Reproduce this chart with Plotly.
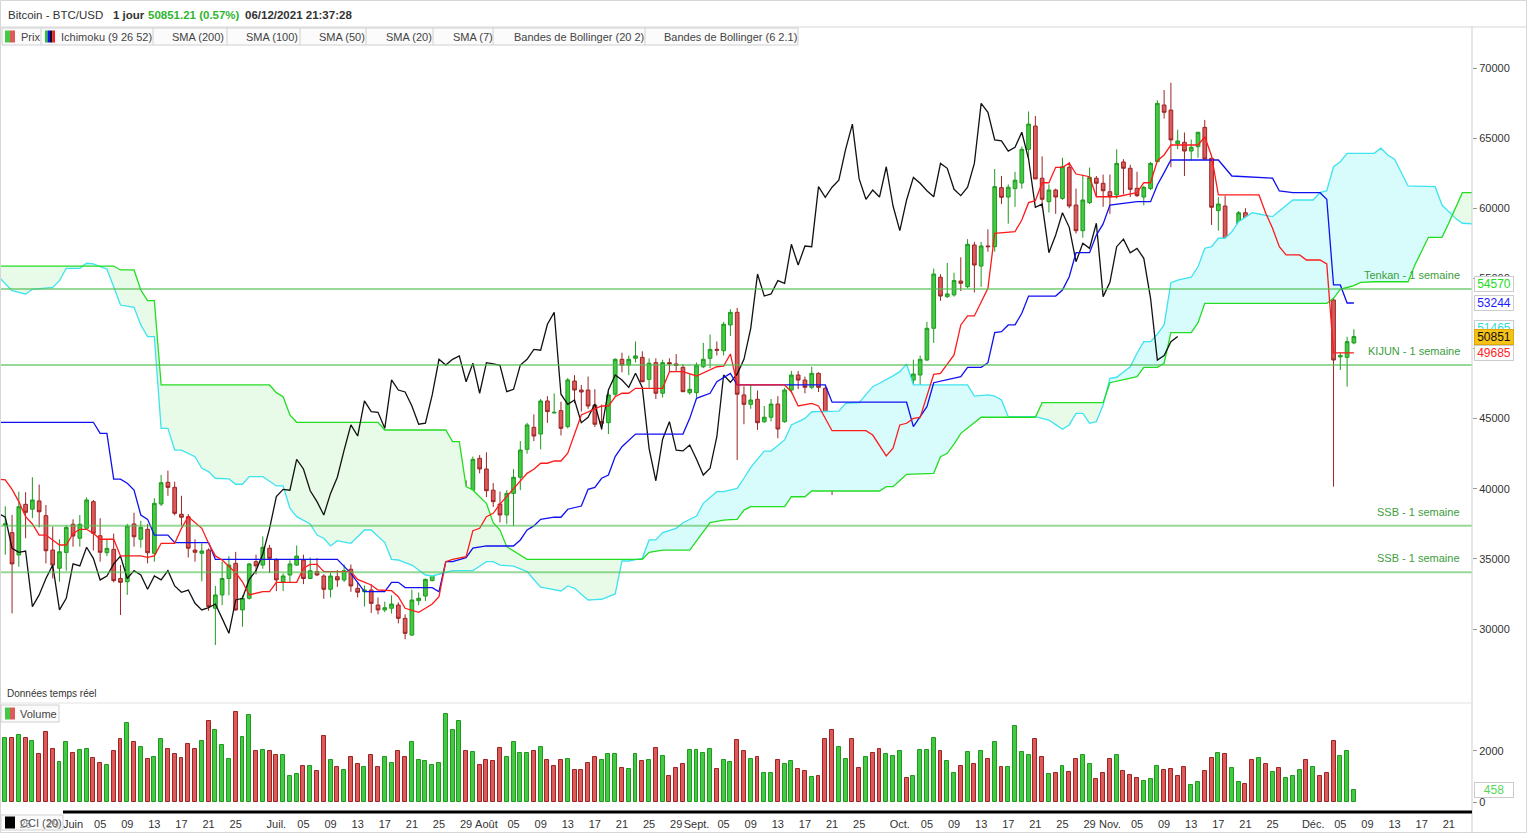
import numpy as np
import pandas as pd
import plotly.graph_objects as go

W, H = 1527, 833
FONT = "Liberation Sans, Arial, sans-serif"

# Daily candles, 22 May 2021 -> 7 Dec 2021 (USD)
first_day = "2021-05-22"
open_ = [
    37400, 36870, 35280, 38890, 38540, 39130, 38080, 35630, 34330, 35460,
    37470, 36470, 37180, 39080, 36650, 35440, 35680, 33600, 33370, 37490,
    36400, 37110, 35400, 38910, 40460, 40100, 38180, 38010, 35630, 35400,
    35630, 31480, 32430, 33600, 34680, 31360, 32190, 34800, 34560, 35760,
    34920, 33370, 33850, 34560, 34920, 33600, 34090, 33780, 32830, 33730,
    33500, 34260, 32900, 32660, 32780, 31710, 31360, 31480, 31710, 30760,
    29570, 32020, 32350, 33450, 34160, 35350, 37180, 39390, 39990, 39900,
    42170,
    41410, 39900, 38910, 38130, 39670, 40820, 42810, 44380, 43900, 46260,
    45400, 45570, 44430, 47680, 47040, 47040, 45970, 44800, 44710, 46740,
    49230, 48820, 49300, 49370, 47800, 48990, 46810, 48990, 48900, 48660,
    46850,
    46850, 48700, 49300, 49940, 49840, 51680, 52580, 46690, 46020, 46380,
    44780, 45100, 46040, 44780, 47040, 48110, 47750, 47230, 48230, 47160,
    42880, 40860, 43530, 44740, 42760, 42640, 43070, 42100, 40980, 41460,
    43710, 48060, 47750, 48110, 49180, 51440, 55080, 53700, 53820, 54810,
    54410, 57380, 55880, 57310, 57260, 61470, 60800, 61400, 61800, 64200,
    65860, 62140, 60470, 61300, 60700, 62920, 60230, 58400, 60400, 62140,
    61780,
    61180, 60950, 63300, 62850, 61420, 60800, 61400, 63320, 67360, 67000,
    64600, 64700, 64080, 64390, 65770, 63560, 59830, 60160, 56740, 58210,
    59680, 58570, 56190, 57570, 57380, 59000, 53650, 54480, 57450, 57670,
    56790, 57020, 56430, 53460, 49400, 49370, 50400,
]
high = [
    38750, 38130, 39790, 39750, 40820, 40300, 38840, 37300, 36400, 37400,
    37820, 38130, 39390, 39200, 37900, 36400, 36800, 34560, 37500, 38290,
    37720, 37490, 39320, 40980, 41290, 40500, 39500, 38200, 36400, 36100,
    35750, 33070, 34800, 35200, 35500, 32400, 34700, 35300, 36600, 36000,
    35050, 33950, 34900, 35950, 35300, 35100, 35050, 33900, 34000, 34200,
    34600, 34600, 33300, 33100, 33200, 32250, 31950, 32400, 31900, 31050,
    32800, 32600, 33600, 34500, 35400, 40500, 39500, 40900, 40600, 42300,
    42400,
    42600, 40400, 39800, 39900, 41400, 43400, 44700, 45300, 46400, 46600,
    46800, 46200, 47900, 48100, 47400, 48000, 47100, 46000, 47000, 49300,
    49700, 49500, 50500, 49800, 49300, 49300, 49200, 49300, 49600, 48900,
    48200,
    49000, 50400, 51000, 50500, 51900, 52800, 52900, 47300, 47400, 47000,
    45900, 46400, 46600, 47200, 48400, 48400, 48000, 48700, 48300, 47300,
    43600, 44000, 44900, 45100, 42900, 43900, 44300, 42600, 42500, 44100,
    48400, 48400, 49200, 49500, 51900, 55700, 55300, 56100, 55400, 56500,
    57800, 57600, 57600, 58500, 62800, 62300, 61700, 62600, 64400, 66900,
    66580, 63700, 61700, 61400, 63600, 63300, 61400, 62400, 62900, 62300,
    62400,
    62400, 64200, 63500, 63100, 62600, 61600, 63300, 67700, 68430, 68950,
    65600, 65400, 64900, 65300, 66300, 63600, 60800, 60900, 58300, 59800,
    60000, 59300, 58000, 57800, 59300, 59100, 55300, 57400, 58800, 59160,
    59040, 57400, 57540, 53800, 49700, 50840, 51370,
]
low = [
    35300, 31120, 34440, 36470, 37900, 37250, 34680, 33600, 33370, 34160,
    35870, 35870, 37180, 35600, 34800, 35200, 33330, 31000, 32430, 35870,
    35800, 34680, 34800, 38770, 39500, 38100, 37350, 35100, 34800, 33400,
    31300, 28860, 31700, 32400, 31300, 30160, 32100, 33900, 34300, 34000,
    32700, 32700, 33300, 34500, 33200, 33550, 33800, 32150, 32250, 33000,
    33350, 32650, 32250, 31600, 31150, 31050, 31200, 31100, 30400, 29270,
    29500, 31700, 32000, 33400, 33850, 35250, 36400, 38800, 39300, 38300,
    41100,
    39400, 38700, 37600, 37500, 37350, 39900, 42500, 43400, 42800, 44700,
    45400, 43800, 44300, 46100, 45500, 45700, 44400, 44200, 43900, 46600,
    48300, 48100, 49000, 47600, 47200, 46400, 46500, 48400, 48400, 46900,
    46700,
    46500, 48600, 48600, 49500, 49500, 50900, 42050, 44600, 45700, 44200,
    44700, 44800, 43600, 44700, 46800, 47100, 46800, 47100, 46900, 42600,
    39550, 40600, 43400, 40900, 41700, 40800, 42000, 40900, 40800, 41400,
    43300, 47100, 47100, 46900, 49100, 50400, 53400, 53600, 53700, 54100,
    54300, 54000, 54400, 56900, 56900, 60300, 58900, 60100, 61400, 63500,
    62100, 60000, 59700, 59600, 60600, 60000, 58200, 57900, 60300, 60800,
    60100,
    59600, 60700, 61000, 60800, 60800, 60200, 61300, 63300, 66400, 62920,
    64200, 62300, 63400, 63600, 63500, 58810, 58400, 56500, 55650, 57400,
    58500, 55600, 55500, 55900, 57000, 53600, 53500, 53270, 56800, 56500,
    56500, 55900, 53500, 40150, 48470, 47280, 50300,
]
close = [
    37500, 34640, 38720, 38320, 39200, 38360, 35580, 34560, 35510, 37240,
    36630, 37470, 39200, 36820, 35470, 35750, 33450, 33330, 37340, 36580,
    37250, 35440, 38960, 40430, 40100, 38250, 37970, 35760, 35470, 35560,
    31600, 32430, 33600, 34560, 31360, 32190, 34640, 34500, 35830, 35040,
    33500, 33780, 34640, 35200, 33600, 34160, 33850, 32830, 33780, 33500,
    34160, 33070, 32620, 32780, 31830, 31360, 31520, 31780, 30760, 29690,
    32070, 32190, 33540, 34160, 35350, 37180, 39440, 39960, 39900, 42100,
    41410,
    39860, 39080, 38130, 39670, 40820, 42760, 44550, 43760, 46260, 45500,
    45450, 44310, 47760, 47040, 46900, 45900, 44600, 44670, 46690, 49230,
    48820, 49230, 49470, 47630, 48950, 46810, 48990, 48900, 48800, 46920,
    47090,
    48820, 49230, 49940, 49880, 51730, 52580, 46740, 46020, 46330, 44710,
    45100, 46040, 44260, 47040, 48110, 47750, 47230, 48230, 47230, 42880,
    40570, 43530, 44780, 42760, 42700, 43120, 42100, 40980, 41460, 43710,
    48110, 47590, 48180, 49230, 51440, 55310, 53740, 53890, 54840, 54650,
    57430, 55950, 57310, 57260, 61540, 60780, 61500, 62000, 64200, 66000,
    62090, 60640, 61300, 60800, 62960, 60160, 58400, 60590, 62200, 61780,
    61250,
    60820, 63200, 62850, 61350, 60900, 61500, 63200, 67480, 66840, 64870,
    64800, 64080, 64350, 65420, 63510, 60070, 60300, 56830, 58090, 59680,
    58640, 56190, 57500, 57140, 58930, 53700, 54720, 57260, 57800, 56830,
    57140, 56430, 53580, 49180, 49500, 50490, 50851,
]
volume = [
    2495, 2495, 2626, 2495, 2390, 1881, 2730, 2064, 1554, 2338,
    1907, 2024, 2064, 1711, 1515, 1436, 1985, 2456, 3083, 2338,
    2142, 1672, 1750, 2456, 2064, 1868, 1711, 2260, 2064, 2377,
    3162, 2809, 2220, 1672, 3514, 2534, 3397, 1985, 2024, 1985,
    1828, 1828, 1005, 1083, 1397, 1397, 1201, 2573, 1632, 1358,
    1240, 1750, 1476, 1358, 1828, 1358, 1750, 1515, 1985, 1750,
    2338, 1632, 1593, 1436, 1515, 3436, 2809, 3162, 1985, 1946,
    1436, 1632, 1593, 2103, 1750, 2338, 1907, 1907, 1985, 2142,
    1632, 1397, 1632, 1672, 1240, 1240, 1515, 1750, 1632, 1868,
    1868, 1319, 1280, 1868, 1593, 1632, 2103, 1789, 1005, 1319,
    1476, 2024, 2024,
    1907, 2064, 1279, 1632, 1554, 2417, 1985, 1672, 1750, 1123,
    1123, 1632, 1476, 1593, 1279, 1201, 966, 1005, 2456, 2809,
    2142, 1672, 2456, 1319, 1750, 1907, 2064, 1868, 1789, 1985,
    927, 1005, 2024, 2024, 2495, 1985, 1593, 1123, 1397, 1946,
    1476, 1985, 1672, 2338, 1358, 1358, 2965, 1946, 1828, 2456,
    1750, 1083, 1123, 1397, 1162, 1672, 1828, 1476, 887, 1123,
    1672, 1828, 1201, 1044, 927, 809, 887, 1397, 1240, 1279,
    1005, 1358, 652, 770, 1201, 1711, 1907, 1868, 1319, 770,
    691, 1632, 1711, 1476, 1162, 1319, 927, 1005, 1240, 1632,
    1358, 1005, 1123, 2377, 1789, 1985, 458,
]

# Ichimoku cloud, one value per day from 21 May 2021
cloud_start = "2021-05-21"
senkou_a = [  # cyan
    55120, 54620, 54120, 54000, 53890, 54220, 54270, 54320, 54360, 54840,
    55720, 55720, 55720, 56080, 56030, 55840, 55650, 54410, 53100, 53020,
    52940, 51680, 50840, 50840, 44310, 44310, 42760, 42760, 42520, 42290,
    41460, 41220, 40750, 40720, 40700, 40320, 40320, 40860, 40860, 40860,
    40530, 40200, 40200, 38610, 38010, 37750, 37490, 36700, 36470, 35920,
    36300, 36200, 36110, 36580, 37060, 37060, 36610, 36160, 34970, 34920,
    34740, 34560, 34200, 33850, 33780, 33920, 34040, 34160, 34160, 34160,
    34160, 34480, 34800, 34800, 34560, 34520, 34490, 34290, 34090, 33530,
    32980, 32890, 32800, 32710, 33070, 32900, 32480, 32070, 32090, 32120,
    32310, 32500, 34850, 34850, 34950, 35040, 36350, 36350, 36870, 37020,
    37180, 37580, 37820, 38060, 38960, 39380, 39790, 39790, 39910, 40030,
    40750, 41530, 42110, 42690, 42690, 43080, 43480, 44550, 44790, 45020,
    45490, 45500, 45510, 45530, 45540, 46090, 46110, 46140, 46710, 47280,
    47520, 47760, 48050, 48350, 48900, 47400, 47400, 47400, 47400, 47400,
    47400, 47400, 47400, 47400, 46610, 46650, 46690, 46610, 46330, 45140,
    45140, 45140, 45140, 45140, 45020, 44900, 44570, 44240, 44550, 45380,
    45380, 44670, 44780, 45970, 47880, 47950, 48330, 48700, 49660, 50490,
    50490, 51030, 51680, 54690, 54880, 54980, 55080, 55830, 57150, 57260,
    57860, 57860, 58330, 59040, 59370, 59690, 59590, 59500, 59400, 59800,
    60190, 60590, 60590, 60590, 60590, 61110, 61250, 62960, 63320, 63920,
    63920, 63920, 63920, 63920, 64280, 63800, 63490, 62540, 61590, 61580,
    61570, 61550, 61540, 60230, 59750, 59280, 58930, 58900, 58880,
]
senkou_b = [  # green
    55880, 55880, 55880, 55880, 55880, 55880, 55880, 55880, 55880, 55880,
    55880, 55880, 55880, 55880, 55880, 55880, 55880, 55880, 55600, 55600,
    55600, 54170, 53410, 53410, 47400, 47400, 47400, 47400, 47400, 47400,
    47400, 47400, 47400, 47400, 47400, 47400, 47400, 47400, 47400, 47400,
    47400, 46850, 46560, 45260, 44740, 44740, 44740, 44740, 44740, 44740,
    44740, 44740, 44740, 44740, 44740, 44740, 44740, 44190, 44190, 44190,
    44190, 44190, 44190, 44190, 44190, 44190, 44190, 43360, 43360, 40150,
    39910, 39430, 38960, 37580, 37060, 35870, 35580, 35280, 34970, 34970,
    34970, 34970, 34970, 34970, 34970, 34970, 34970, 34970, 34970, 34970,
    34970, 34970, 34970, 34970, 34970, 34970, 35470, 35550, 35630, 35630,
    35630, 35630, 35630, 36290, 36940, 37580, 37680, 37770, 37800, 37820,
    38480, 38720, 38720, 38720, 38720, 38720, 38720, 39430, 39430, 39430,
    39840, 39840, 39840, 39840, 39840, 39840, 39840, 39840, 39840, 39840,
    39840, 40150, 40150, 40590, 41030, 41050, 41060, 41080, 41100, 42290,
    42530, 43190, 43950, 44330, 44720, 45100, 45100, 45100, 45100, 45100,
    45100, 45100, 45100, 45100, 46140, 46140, 46140, 46140, 46140, 46140,
    46140, 46140, 46140, 46140, 47560, 47680, 47800, 47900, 47990, 48660,
    48660, 48660, 48950, 51130, 51130, 51130, 51130, 51840, 53220, 53220,
    53220, 53220, 53220, 53220, 53220, 53220, 53220, 53220, 53220, 53220,
    53220, 53220, 53220, 53220, 53220, 53220, 53220, 53580, 54220, 54350,
    54480, 54720, 54760, 54760, 54760, 54760, 54760, 54760, 54760, 55950,
    56940, 57930, 57930, 57930, 58930, 60020, 61110, 61110, 61110,
]

# Tenkan / Kijun vertices (day number counted from 21 May 2021)
tenkan_day = [
    0, 1, 2, 3, 4, 5, 6, 7, 8, 9, 10, 11, 12, 13, 14, 15,
    17, 18, 21, 22, 23, 24, 26, 27, 28, 30,
    31, 32, 33, 35, 36, 37, 39, 40, 41, 44,
    45, 46, 47, 48, 52, 53, 55, 56, 58, 59,
    60, 62, 63, 64, 65, 66, 67, 69, 70, 71,
    72, 73, 74, 76, 78, 79, 80, 81, 82, 83,
    84, 86, 87, 89, 90, 91, 92, 93, 94, 98,
    99, 101, 103, 105, 106, 107, 108, 109, 116, 117,
    118, 120, 121, 123, 128, 129, 131, 132, 133, 134,
    135, 136, 138, 139, 141, 142, 143, 144, 146, 147,
    148, 150, 151, 152, 153, 154, 155, 156, 157, 158,
    159, 161, 162, 165, 168, 169, 170, 171, 172, 173,
    177, 178, 179, 180, 186, 187, 188, 189, 190, 192,
    193, 195, 196, 197, 200,
]
tenkan = [
    40680, 40630, 39960, 39080, 38010, 37490, 36700, 36700, 36350, 35990, 35990, 36820, 37110, 37110, 36820, 36400,
    36400, 35210, 35210, 35110, 35210, 36110, 36110, 37180, 38010, 37180,
    36110, 35210, 34920, 34010, 33370, 32430, 32670, 32670, 33330, 33330,
    34330, 34610, 34610, 34090, 34090, 33540, 33140, 32780, 32730, 32300,
    31480, 31190, 31480, 31780, 32300, 34800, 34970, 35160, 37010, 37180,
    38010, 38250, 38900, 40030, 41100, 41390, 41820, 41820, 41980, 41980,
    42530, 45260, 45490, 45900, 45900, 46560, 46810, 46810, 47160, 47160,
    48350, 48350, 48040, 48470, 48700, 48750, 49610, 47400, 47400, 46920,
    45900, 46090, 45900, 44140, 44140, 43830, 42340, 42890, 44550, 44670,
    45020, 45080, 48160, 48230, 49540, 51680, 52320, 52320, 54290, 58210,
    58260, 58330, 59160, 60400, 60540, 61820, 61820, 62920, 62920, 63210,
    62440, 62250, 60820, 60820, 61110, 61820, 61820, 63390, 63800, 64510,
    64510, 65100, 63730, 60950, 60950, 59640, 58570, 57260, 56670, 56670,
    56310, 56310, 56030, 49685, 49685,
]
kijun_day = [
    0, 14, 15, 16, 17, 18, 19, 20, 21, 22,
    23, 25, 26, 31, 32, 50, 52, 54, 57, 58,
    59, 60, 64, 65, 66, 67, 69, 70, 72, 76,
    77, 78, 79, 80, 82, 83, 84, 86, 87, 88,
    89, 90, 91, 92, 94, 101, 102, 103, 105, 106,
    108, 109, 122, 123, 134, 135, 136, 137, 138, 140,
    142, 143, 145, 146, 147, 148, 149, 150, 151, 152,
    156, 157, 158, 159, 161, 162, 163, 164, 167, 168,
    170, 171, 172, 173, 180, 182, 188, 189, 191, 195,
    196, 197, 198, 199, 200,
]
kijun = [
    44740, 44740, 43950, 43950, 40680, 40680, 40390, 39910, 38130, 37820,
    36700, 36700, 36160, 36160, 34970, 34970, 33970, 32660, 32660, 33330,
    33330, 32950, 32950, 32660, 34800, 34800, 35090, 35760, 35920, 35920,
    36350, 37060, 37350, 37820, 37970, 37970, 38540, 38770, 39960, 40100,
    40750, 40980, 42290, 43000, 43900, 43900, 45020, 46450, 46810, 47630,
    48230, 47400, 47400, 46170, 46170, 44430, 45140, 45850, 47560, 47800,
    47990, 48660, 48660, 48990, 51130, 51200, 51680, 51680, 52510, 53740,
    53740, 54170, 55120, 56830, 56830, 58090, 58880, 60230, 60400, 60470,
    60470, 61660, 62540, 63440, 63440, 62300, 62140, 61230, 61110, 61110,
    60640, 54530, 54530, 53244, 53244,
]
chikou_lag = 26

# weekly levels drawn across the chart
level_values = [54240, 48820, 37370, 34040]
level_names = ["Tenkan - 1 semaine", "KIJUN - 1 semaine", "SSB - 1 semaine", "SSB - 1 semaine"]

# last values shown on the price scale
last_ssb, last_kijun, last_ssa, last_price, last_tenkan = 54570, 53244, 51465, 50851, 49685

price_ticks = [30000, 35000, 40000, 45000, 50000, 55000, 60000, 65000, 70000]
volume_ticks = [0, 2000]
tick_dates = [
    "2021-05-25", "2021-05-29", "2021-06-01", "2021-06-05", "2021-06-09", "2021-06-13",
    "2021-06-17", "2021-06-21", "2021-06-25", "2021-07-01", "2021-07-05", "2021-07-09",
    "2021-07-13", "2021-07-17", "2021-07-21", "2021-07-25", "2021-07-29", "2021-08-01",
    "2021-08-05", "2021-08-09", "2021-08-13", "2021-08-17", "2021-08-21", "2021-08-25",
    "2021-08-29", "2021-09-01", "2021-09-05", "2021-09-09", "2021-09-13", "2021-09-17",
    "2021-09-21", "2021-09-25", "2021-10-01", "2021-10-05", "2021-10-09", "2021-10-13",
    "2021-10-17", "2021-10-21", "2021-10-25", "2021-10-29", "2021-11-01", "2021-11-05",
    "2021-11-09", "2021-11-13", "2021-11-17", "2021-11-21", "2021-11-25", "2021-12-01",
    "2021-12-05", "2021-12-09", "2021-12-13", "2021-12-17", "2021-12-21",
]
tick_text = [
    "25", "29", "Juin", "05", "09", "13",
    "17", "21", "25", "Juil.", "05", "09",
    "13", "17", "21", "25", "29", "Août",
    "05", "09", "13", "17", "21", "25",
    "29", "Sept.", "05", "09", "13", "17",
    "21", "25", "Oct.", "05", "09", "13",
    "17", "21", "25", "29", "Nov.", "05",
    "09", "13", "17", "21", "25", "Déc.",
    "05", "09", "13", "17", "21",
]


def fx(x):
    return x / W


def fy(y):
    return 1 - y / H


days = pd.date_range(first_day, periods=len(close), freq="D")
cloud_x = pd.date_range(cloud_start, periods=len(senkou_a), freq="D")
start = pd.Timestamp(cloud_start)
tenkan_x = start + pd.to_timedelta(tenkan_day, unit="D")
kijun_x = start + pd.to_timedelta(kijun_day, unit="D")
chikou_x = days - pd.Timedelta(days=chikou_lag)

sa = np.array(senkou_a)
sb = np.array(senkou_b)
top = np.maximum(sa, sb)

GREEN, RED = "#44c944", "#dd5a5a"
GREEN_EDGE, RED_EDGE = "#1f9a1f", "#9c2424"
prev = [open_[0]] + close[:-1]
up = [c >= p for c, p in zip(close, prev)]

fig = go.Figure()

# cloud fills
fig.add_trace(go.Scatter(x=cloud_x, y=sa, mode="lines", line=dict(width=0), hoverinfo="skip"))
fig.add_trace(go.Scatter(x=cloud_x, y=top, mode="lines", line=dict(width=0), fill="tonexty",
                         fillcolor="#e8fbe8", hoverinfo="skip"))
fig.add_trace(go.Scatter(x=cloud_x, y=sb, mode="lines", line=dict(width=0), hoverinfo="skip"))
fig.add_trace(go.Scatter(x=cloud_x, y=top, mode="lines", line=dict(width=0), fill="tonexty",
                         fillcolor="#d8fbfc", hoverinfo="skip"))
fig.add_trace(go.Scatter(x=cloud_x, y=sa, mode="lines", line=dict(color="#3ee3f0", width=1.3)))
fig.add_trace(go.Scatter(x=cloud_x, y=sb, mode="lines", line=dict(color="#22dd22", width=1.3)))

# candles
fig.add_trace(go.Candlestick(
    x=days, open=open_, high=high, low=low, close=close, whiskerwidth=0,
    increasing=dict(fillcolor=GREEN, line=dict(color=GREEN_EDGE, width=1)),
    decreasing=dict(fillcolor=RED, line=dict(color=RED_EDGE, width=1)),
    hoverinfo="skip",
))

# ichimoku lines
fig.add_trace(go.Scatter(x=chikou_x, y=close, mode="lines", line=dict(color="#111111", width=1.3)))
fig.add_trace(go.Scatter(x=kijun_x, y=kijun, mode="lines", line=dict(color="#1010f0", width=1.3)))
fig.add_trace(go.Scatter(x=tenkan_x, y=tenkan, mode="lines", line=dict(color="#ff1a1a", width=1.3)))

# volume
fig.add_trace(go.Bar(
    x=days, y=volume, yaxis="y2", width=0.58 * 86400000,
    marker=dict(color=[GREEN if u else RED for u in up],
                line=dict(color=[GREEN_EDGE if u else RED_EDGE for u in up], width=1)),
    hoverinfo="skip",
))

shapes = []
ann = []

# weekly levels
for v, name in zip(level_values, level_names):
    shapes.append(dict(type="line", xref="paper", x0=0, x1=fx(1472), yref="y", y0=v, y1=v,
                       line=dict(color="rgba(80,190,80,0.6)", width=2), layer="above"))
    ann.append(dict(text=name, xref="paper", x=fx(1462), xanchor="right", yref="y", y=v,
                    yanchor="bottom", yshift=6, showarrow=False,
                    font=dict(size=11, color="#3c9e3c", family=FONT)))

# frame and panel separators
line_grey = "#d6d6d6"
shapes += [
    dict(type="rect", xref="paper", yref="paper", x0=fx(0.5), x1=fx(1526.5), y0=fy(832.5), y1=fy(0.5),
         line=dict(color=line_grey, width=1)),
    dict(type="line", xref="paper", yref="paper", x0=0, x1=1, y0=fy(27), y1=fy(27),
         line=dict(color=line_grey, width=1)),
    dict(type="line", xref="paper", yref="paper", x0=fx(1472), x1=fx(1472), y0=0, y1=fy(27),
         line=dict(color="#cfcfcf", width=1)),
    dict(type="line", xref="paper", yref="paper", x0=0, x1=fx(1472), y0=fy(703), y1=fy(703),
         line=dict(color="#e2e2e2", width=1)),
    dict(type="line", xref="paper", yref="paper", x0=fx(63), x1=fx(1472), y0=fy(812), y1=fy(812),
         line=dict(color="#000000", width=3)),
]

# legend chips in the header
shapes.append(dict(type="rect", xref="paper", yref="paper", x0=fx(2), x1=fx(798), y0=fy(45), y1=fy(28),
                   line=dict(color="#d0d0d0", width=1), fillcolor="#fbfbfb", layer="above"))
for sx in [41, 153, 227, 300, 366, 433, 493, 645]:
    shapes.append(dict(type="line", xref="paper", yref="paper", x0=fx(sx), x1=fx(sx), y0=fy(45), y1=fy(28),
                       line=dict(color="#d0d0d0", width=1), layer="above"))
chips = [(19, "Prix"), (59, "Ichimoku (9 26 52)"), (170, "SMA (200)"), (244, "SMA (100)"),
         (317, "SMA (50)"), (384, "SMA (20)"), (451, "SMA (7)"),
         (512, "Bandes de Bollinger (20 2)"), (662, "Bandes de Bollinger (6 2.1)")]
for cx, label in chips:
    ann.append(dict(text=label, xref="paper", x=fx(cx), xanchor="left", yref="paper", y=fy(36.5),
                    yanchor="middle", showarrow=False, font=dict(size=11, color="#444", family=FONT)))


def icon(x0, y0, colors, w):
    for i, c in enumerate(colors):
        shapes.append(dict(type="rect", xref="paper", yref="paper", x0=fx(x0 + i * w), x1=fx(x0 + (i + 1) * w),
                           y0=fy(y0 + 12), y1=fy(y0), line=dict(width=0), fillcolor=c, layer="above"))


icon(5, 30.5, [GREEN, RED], 5)
icon(45, 30.5, ["#22cc22", "#1010f0", "#111111", "#ff1a1a"], 2.5)

# volume and CCI chips
shapes.append(dict(type="rect", xref="paper", yref="paper", x0=fx(1), x1=fx(59), y0=fy(722), y1=fy(705),
                   line=dict(color="#d0d0d0", width=1), fillcolor="#fbfbfb", layer="above"))
icon(5, 707.5, [GREEN, RED], 5)
ann.append(dict(text="Volume", xref="paper", x=fx(18), xanchor="left", yref="paper", y=fy(714),
                yanchor="middle", showarrow=False, font=dict(size=11, color="#444", family=FONT)))
shapes.append(dict(type="rect", xref="paper", yref="paper", x0=fx(1), x1=fx(63), y0=fy(830), y1=fy(815),
                   line=dict(color="#d0d0d0", width=1), fillcolor="rgba(250,250,250,0.5)", layer="above"))
icon(5, 816.5, ["#000000"], 10)
ann.append(dict(text="CCI (20)", xref="paper", x=fx(18), xanchor="left", yref="paper", y=fy(822.5),
                yanchor="middle", showarrow=False, font=dict(size=11, color="#555", family=FONT)))

# title line
title_parts = [(6, "Bitcoin - BTC/USD", "#333", False), (111, "1 jour", "#333", True),
               (146, "50851.21 (0.57%)", "#2fb52f", True), (243, "06/12/2021 21:37:28", "#333", True)]
for tx, t, col, bold in title_parts:
    ann.append(dict(text="<b>%s</b>" % t if bold else t, xref="paper", x=fx(tx), xanchor="left",
                    yref="paper", y=fy(15), yanchor="middle", showarrow=False,
                    font=dict(size=11.5, color=col, family=FONT)))

ann.append(dict(text="Données temps réel", xref="paper", x=fx(5), xanchor="left", yref="paper", y=fy(693),
                yanchor="middle", showarrow=False, font=dict(size=10, color="#333", family=FONT)))

# value boxes on the price scale
boxes = [(last_ssb, "#22dd22", "white", "#cccccc"), (last_kijun, "#1a1aff", "white", "#cccccc"),
         (last_ssa, "#33dada", "white", "#cccccc"), (last_price, "#111111", "#f6c21a", "#e0a800"),
         (last_tenkan, "#ff2222", "white", "#cccccc")]
for v, col, bg, border in boxes:
    ann.append(dict(text=str(v), xref="paper", x=fx(1474), xanchor="left", yref="y", y=v, yanchor="middle",
                    showarrow=False, width=38, height=14, bgcolor=bg, bordercolor=border, borderwidth=1,
                    borderpad=0, font=dict(size=12, color=col, family=FONT)))
ann.append(dict(text=str(volume[-1]), xref="paper", x=fx(1474), xanchor="left", yref="y2", y=volume[-1],
                yanchor="middle", showarrow=False, width=38, height=14, bgcolor="white",
                bordercolor="#cccccc", borderwidth=1, borderpad=0,
                font=dict(size=12, color="#55d855", family=FONT)))

axis_font = dict(size=11, color="#333", family=FONT)
fig.update_layout(
    width=W, height=H, template="none",
    margin=dict(l=0, r=0, t=0, b=0),
    paper_bgcolor="white", plot_bgcolor="white",
    showlegend=False, hovermode=False,
    font=dict(family=FONT),
    xaxis=dict(domain=[0, fx(1472)], anchor="y2", type="date",
               range=["2021-05-21 05:20", "2021-12-24 10:20"],
               tickvals=tick_dates, ticktext=tick_text, tickfont=axis_font, tickangle=0,
               ticks="outside", ticklen=8, tickcolor="rgba(0,0,0,0)",
               showgrid=False, zeroline=False, showline=False,
               rangeslider=dict(visible=False), automargin=False),
    yaxis=dict(domain=[fy(703), fy(46)], anchor="x", side="right", range=[24724, 71569],
               tickvals=price_ticks, tickformat="d", tickfont=axis_font,
               ticks="outside", ticklen=4, tickcolor="#999",
               showgrid=False, zeroline=False, showline=False, automargin=False),
    yaxis2=dict(domain=[fy(806), fy(703)], anchor="x", side="right", range=[-157, 3882],
                tickvals=volume_ticks, tickformat="d", tickfont=axis_font,
                ticks="outside", ticklen=4, tickcolor="#999",
                showgrid=False, zeroline=False, showline=False, automargin=False),
    shapes=shapes,
    annotations=ann,
    bargap=0,
    boxgap=0.22,
)

fig.write_html("out.html", config={"displayModeBar": False},
               post_script="document.body.style.margin='0';")
